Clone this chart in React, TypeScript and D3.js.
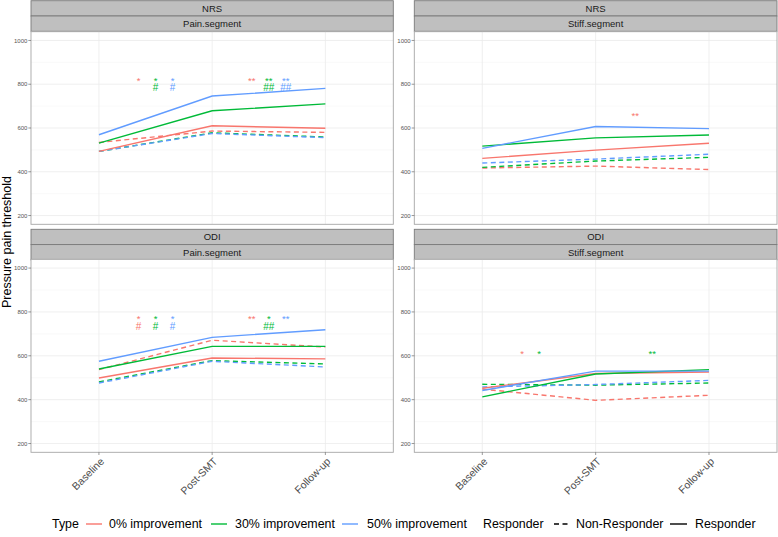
import React from "react";
import * as d3 from "d3";

const timepoints = ["Baseline", "Post-SMT", "Follow-up"];
const types = ["0% improvement", "30% improvement", "50% improvement"];
const typeColors = ["#F8766D", "#00BA38", "#619CFF"];
const yTicks = [200, 400, 600, 800, 1000];
const yMinor = [300, 500, 700, 900];

// values per type (0%, 30%, 50%) across timepoints
const nrsPainResponder = [[493, 610, 599], [531, 679, 710], [569, 746, 781]];
const nrsPainNonResponder = [[534, 586, 580], [493, 578, 559], [493, 575, 556]];
const nrsStiffResponder = [[461, 499, 530], [517, 555, 568], [507, 607, 597]];
const nrsStiffNonResponder = [[417, 426, 410], [420, 449, 466], [440, 458, 480]];
const odiPainResponder = [[499, 590, 586], [540, 643, 643], [575, 684, 719]];
const odiPainNonResponder = [[537, 671, 640], [481, 578, 563], [476, 575, 549]];
const odiStiffResponder = [[452, 519, 526], [413, 517, 537], [442, 530, 530]];
const odiStiffNonResponder = [[448, 397, 420], [470, 466, 476], [458, 469, 488]];

// significance marks: [x on category scale (1..3), star y, star label, hash y, hash label, type index]
type Mark = [number, number, string, number, string, number];
const nrsPainMarks: Mark[] = [
  [1.35, 823, "*", 788, "", 0], [1.5, 823, "*", 788, "#", 1], [1.65, 823, "*", 788, "#", 2],
  [2.35, 823, "**", 788, "", 0], [2.5, 823, "**", 788, "##", 1], [2.65, 823, "**", 788, "##", 2],
];
const nrsStiffMarks: Mark[] = [[2.35, 662, "**", 627, "", 0]];
const odiPainMarks: Mark[] = [
  [1.35, 777, "*", 739, "#", 0], [1.5, 777, "*", 739, "#", 1], [1.65, 777, "*", 739, "#", 2],
  [2.35, 777, "**", 739, "", 0], [2.5, 777, "*", 739, "##", 1], [2.65, 777, "**", 739, "", 2],
];
const odiStiffMarks: Mark[] = [
  [1.35, 616, "*", 580, "", 0], [1.5, 616, "*", 580, "", 1], [2.5, 616, "**", 580, "", 1],
];

const panels = [
  { outcome: "NRS", segment: "Pain.segment", row: 0, col: 0, resp: nrsPainResponder, non: nrsPainNonResponder, marks: nrsPainMarks },
  { outcome: "NRS", segment: "Stiff.segment", row: 0, col: 1, resp: nrsStiffResponder, non: nrsStiffNonResponder, marks: nrsStiffMarks },
  { outcome: "ODI", segment: "Pain.segment", row: 1, col: 0, resp: odiPainResponder, non: odiPainNonResponder, marks: odiPainMarks },
  { outcome: "ODI", segment: "Stiff.segment", row: 1, col: 1, resp: odiStiffResponder, non: odiStiffNonResponder, marks: odiStiffMarks },
];

const W = 778;
const H = 537;
const colX: [number, number][] = [[31, 393.3], [414.3, 777]];
const rowY: { strip: number; top: number; bottom: number }[] = [
  { strip: 0.7, top: 31.7, bottom: 224.3 },
  { strip: 229.3, top: 259.3, bottom: 452.3 },
];
const stripH = 15.3;
const font = "'Liberation Sans', Arial, Helvetica, sans-serif";

function Panel({ p }: { p: (typeof panels)[number] }) {
  const [x0, x1] = colX[p.col];
  const r = rowY[p.row];
  const x = d3.scalePoint<string>().domain(timepoints).range([x0, x1]).padding(0.6);
  const xNum = d3.scaleLinear().domain([0.4, 3.6]).range([x0, x1]);
  const y = d3.scaleLinear().domain([160, 1040]).range([r.bottom, r.top]);
  const line = d3
    .line<number>()
    .x((_, i) => x(timepoints[i]) as number)
    .y((v) => y(v));
  return (
    <g>
      {/* strips */}
      <rect x={x0} y={r.strip} width={x1 - x0} height={stripH} fill="#BFBFBF" stroke="#7A7A7A" strokeWidth={0.9} />
      <rect x={x0} y={r.strip + stripH} width={x1 - x0} height={stripH} fill="#BFBFBF" stroke="#7A7A7A" strokeWidth={0.9} />
      <text x={(x0 + x1) / 2} y={r.strip + stripH / 2} dy="0.36em" textAnchor="middle" fontSize={9.5} fill="#1A1A1A" fontFamily={font}>
        {p.outcome}
      </text>
      <text x={(x0 + x1) / 2} y={r.strip + stripH * 1.5} dy="0.36em" textAnchor="middle" fontSize={9.5} fill="#1A1A1A" fontFamily={font}>
        {p.segment}
      </text>
      {/* panel */}
      <rect x={x0} y={r.top} width={x1 - x0} height={r.bottom - r.top} fill="#FFFFFF" />
      {yMinor.map((v) => (
        <line key={"m" + v} x1={x0} x2={x1} y1={y(v)} y2={y(v)} stroke="#F3F3F3" strokeWidth={0.5} />
      ))}
      {yTicks.map((v) => (
        <line key={"g" + v} x1={x0} x2={x1} y1={y(v)} y2={y(v)} stroke="#EBEBEB" strokeWidth={0.8} />
      ))}
      {timepoints.map((t) => (
        <line key={"v" + t} x1={x(t)} x2={x(t)} y1={r.top} y2={r.bottom} stroke="#EBEBEB" strokeWidth={0.8} />
      ))}
      {p.non.map((vals, i) => (
        <path key={"n" + i} d={line(vals) || ""} fill="none" stroke={typeColors[i]} strokeWidth={1.4} strokeDasharray="5,3.5" />
      ))}
      {p.resp.map((vals, i) => (
        <path key={"r" + i} d={line(vals) || ""} fill="none" stroke={typeColors[i]} strokeWidth={1.4} />
      ))}
      {p.marks.map(([mx, sy, star, hy, hash, ti], k) => (
        <text key={"k" + k} textAnchor="middle" fill={typeColors[ti]} fontFamily={font}>
          <tspan x={xNum(mx)} y={y(sy) + 4.6} fontSize={9.5}>
            {star}
          </tspan>
          {hash ? (
            <tspan x={xNum(mx)} y={y(hy) + 4.6} fontSize={10}>
              {hash}
            </tspan>
          ) : null}
        </text>
      ))}
      <rect x={x0} y={r.top} width={x1 - x0} height={r.bottom - r.top} fill="none" stroke="#A6A6A6" strokeWidth={0.9} />
      {/* y axis */}
      {yTicks.map((v) => (
        <g key={"t" + v}>
          <line x1={x0 - 2.7} x2={x0} y1={y(v)} y2={y(v)} stroke="#555" strokeWidth={0.6} />
          <text x={x0 - 3.6} y={y(v)} dy="0.35em" textAnchor="end" fontSize={6} fill="#555" fontFamily={font}>
            {v}
          </text>
        </g>
      ))}
      {/* x axis */}
      {p.row === 1 &&
        timepoints.map((t) => (
          <g key={"x" + t}>
            <line x1={x(t)} x2={x(t)} y1={r.bottom} y2={r.bottom + 2.7} stroke="#555" strokeWidth={0.6} />
            <text
              transform={`translate(${(x(t) as number) + 0.5},${r.bottom + 4.5}) rotate(-45)`}
              dy="0.72em"
              textAnchor="end"
              fontSize={10.5}
              fill="#4D4D4D"
              fontFamily={font}
            >
              {t}
            </text>
          </g>
        ))}
    </g>
  );
}

const legendY = 524;
const legendTypeX = [86, 211, 342];
const legendTypeTextX = [109, 235, 367];

export default function App() {
  return (
    <svg width={W} height={H} style={{ position: "absolute", left: 0, top: 0, background: "#FFFFFF" }}>
      <rect x={0} y={0} width={W} height={H} fill="#FFFFFF" />
      {panels.map((p) => (
        <Panel key={p.outcome + p.segment} p={p} />
      ))}
      <text
        transform={`translate(10.5,242) rotate(-90)`}
        textAnchor="middle"
        fontSize={12.5}
        fill="#000"
        fontFamily={font}
      >
        Pressure pain threshold
      </text>
      {/* legend */}
      <g fontFamily={font} fontSize={12.4} fill="#000">
        <text x={52} y={legendY} dy="0.35em">Type</text>
        {types.map((t, i) => (
          <g key={t}>
            <line x1={legendTypeX[i]} x2={legendTypeX[i] + 16} y1={legendY} y2={legendY} stroke={typeColors[i]} strokeWidth={1.4} />
            <text x={legendTypeTextX[i]} y={legendY} dy="0.35em">{t}</text>
          </g>
        ))}
        <text x={483} y={legendY} dy="0.35em">Responder</text>
        <line x1={554} x2={571} y1={legendY} y2={legendY} stroke="#000" strokeWidth={1.4} strokeDasharray="5,3.5" />
        <text x={576} y={legendY} dy="0.35em">Non-Responder</text>
        <line x1={670} x2={687} y1={legendY} y2={legendY} stroke="#000" strokeWidth={1.4} />
        <text x={695} y={legendY} dy="0.35em">Responder</text>
      </g>
    </svg>
  );
}
